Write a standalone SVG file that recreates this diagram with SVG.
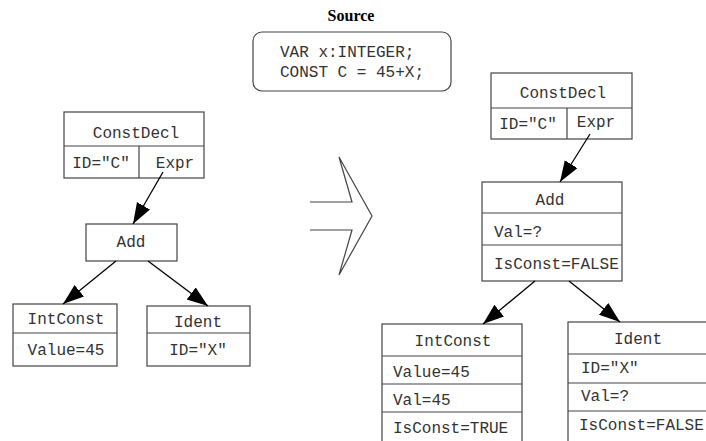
<svg xmlns="http://www.w3.org/2000/svg" width="706" height="441" viewBox="0 0 706 441">
<defs>
<marker id="ah" markerUnits="userSpaceOnUse" markerWidth="24" markerHeight="18" refX="21" refY="7.5" orient="auto">
<path d="M0,0 L21,7.5 L0,15 Z" fill="#000"/>
</marker>
<style>
.box{fill:#fff;stroke:#444;stroke-width:1.2}
.ln{stroke:#444;stroke-width:1.2;fill:none}
.t{font-family:"Liberation Mono","Courier New",monospace;font-size:16px;fill:#333}
.c{text-anchor:middle}
.edge{stroke:#000;stroke-width:1.3;fill:none;marker-end:url(#ah)}
</style>
</defs>
<rect width="706" height="441" fill="#fff"/>

<g id="source">
<text x="351" y="21" font-family="'Liberation Serif','Times New Roman',serif" font-weight="bold" font-size="16" text-anchor="middle">Source</text>
<rect x="253" y="32" width="198" height="59" rx="9" class="box"/>
<text x="280" y="57" class="t">VAR x:INTEGER;</text>
<text x="280" y="77" class="t">CONST C = 45+X;</text>
</g>

<g id="bigarrow">
<polyline class="ln" stroke="#000" points="310,202 352,202 339,157 372,216 339,275 352,230 310,230"/>
</g>

<g id="L_constdecl">
<rect x="64" y="112" width="140" height="66" class="box"/>
<line x1="64" y1="146" x2="204" y2="146" class="ln"/>
<line x1="139" y1="146" x2="139" y2="178" class="ln"/>
<text x="136" y="138" class="t c">ConstDecl</text>
<text x="101" y="168" class="t c">ID="C"</text>
<text x="175" y="168" class="t c">Expr</text>
</g>

<g id="L_add">
<rect x="86" y="224" width="91" height="37" class="box"/>
<text x="131" y="247" class="t c">Add</text>
</g>

<g id="L_intconst">
<rect x="13" y="304" width="104" height="62" class="box"/>
<line x1="13" y1="333" x2="117" y2="333" class="ln"/>
<text x="66" y="324" class="t c">IntConst</text>
<text x="66" y="355" class="t c">Value=45</text>
</g>

<g id="L_ident">
<rect x="147" y="306" width="103" height="60" class="box"/>
<line x1="147" y1="333" x2="250" y2="333" class="ln"/>
<text x="198" y="327" class="t c">Ident</text>
<text x="198" y="355" class="t c">ID="X"</text>
</g>

<g id="R_constdecl">
<rect x="491" y="73" width="141" height="66" class="box"/>
<line x1="491" y1="108" x2="632" y2="108" class="ln"/>
<line x1="567" y1="108" x2="567" y2="139" class="ln"/>
<text x="563" y="98" class="t c">ConstDecl</text>
<text x="528" y="129" class="t c">ID="C"</text>
<text x="596" y="127" class="t c">Expr</text>
</g>

<g id="R_add">
<rect x="482" y="182" width="140" height="99" class="box"/>
<line x1="482" y1="213" x2="622" y2="213" class="ln"/>
<line x1="482" y1="245" x2="622" y2="245" class="ln"/>
<text x="550" y="205" class="t c">Add</text>
<text x="494" y="237" class="t">Val=?</text>
<text x="494" y="269" class="t">IsConst=FALSE</text>
</g>

<g id="R_intconst">
<rect x="382" y="324" width="140" height="125" class="box"/>
<line x1="382" y1="356" x2="522" y2="356" class="ln"/>
<line x1="382" y1="384" x2="522" y2="384" class="ln"/>
<line x1="382" y1="412" x2="522" y2="412" class="ln"/>
<text x="453" y="346" class="t c">IntConst</text>
<text x="393" y="377" class="t">Value=45</text>
<text x="393" y="405" class="t">Val=45</text>
<text x="393" y="433" class="t">IsConst=TRUE</text>
</g>

<g id="R_ident">
<rect x="568" y="322" width="150" height="127" class="box"/>
<line x1="568" y1="354" x2="718" y2="354" class="ln"/>
<line x1="568" y1="383" x2="718" y2="383" class="ln"/>
<line x1="568" y1="411" x2="718" y2="411" class="ln"/>
<text x="638" y="344" class="t c">Ident</text>
<text x="581" y="373" class="t">ID="X"</text>
<text x="581" y="401" class="t">Val=?</text>
<text x="579" y="430" class="t">IsConst=FALSE</text>
</g>

<g id="connectors">
<line x1="163" y1="172" x2="133" y2="224" class="edge"/>
<line x1="116" y1="261" x2="63" y2="304" class="edge"/>
<line x1="148" y1="261" x2="208" y2="306" class="edge"/>
<line x1="590" y1="134" x2="560" y2="182" class="edge"/>
<line x1="535" y1="281" x2="483" y2="324" class="edge"/>
<line x1="569" y1="281" x2="620" y2="322" class="edge"/>
</g>
</svg>
